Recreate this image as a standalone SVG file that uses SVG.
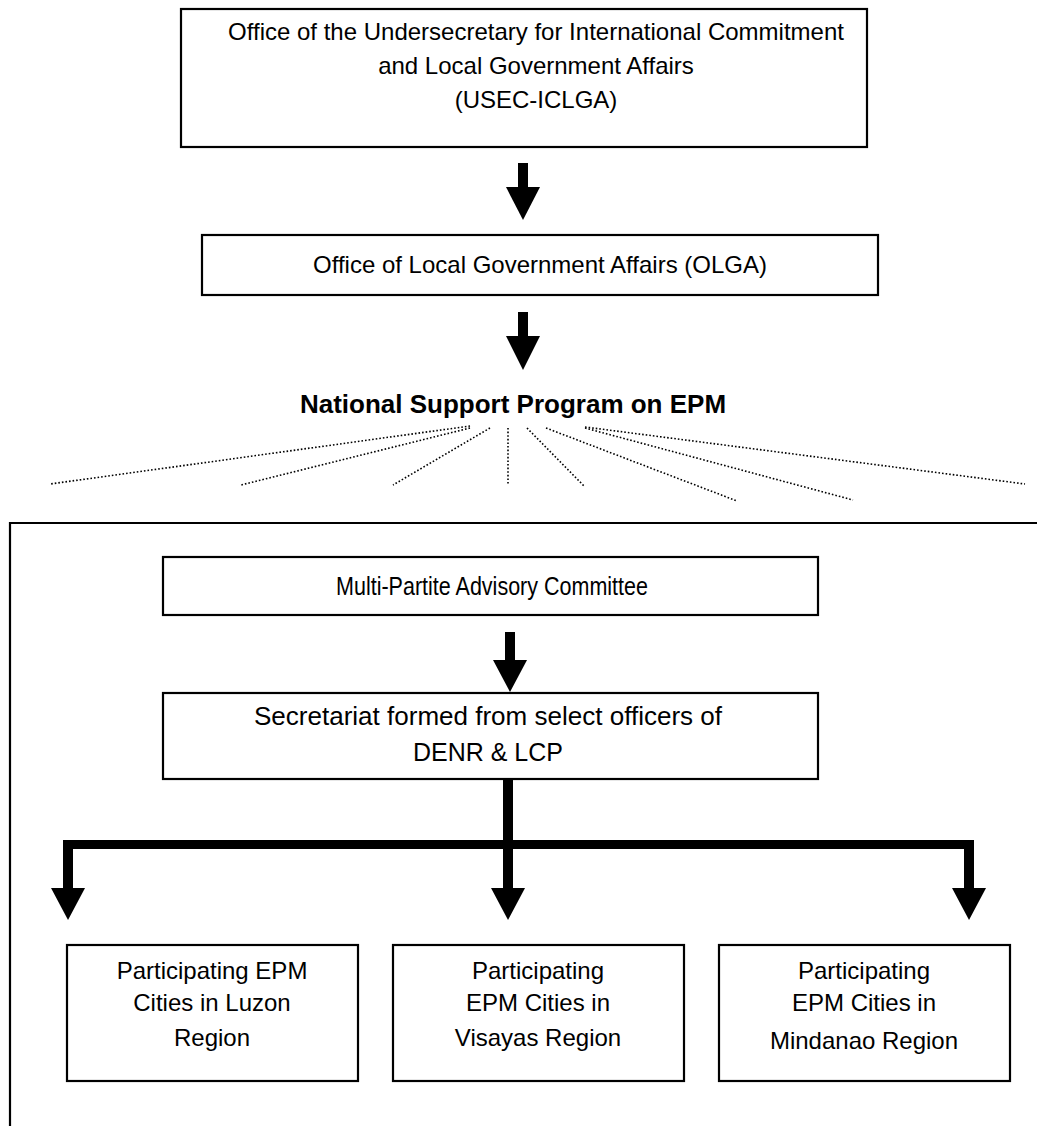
<svg xmlns="http://www.w3.org/2000/svg" width="1037" height="1129" viewBox="0 0 1037 1129">
<style>
.box{fill:#fff;stroke:#000;stroke-width:2.2}
.t{font-family:"Liberation Sans",Arial,sans-serif;font-size:24px;fill:#000;text-anchor:middle}
.n{font-family:"Liberation Sans Narrow","Arial Narrow","Liberation Sans",sans-serif;font-size:26px;fill:#000;text-anchor:middle}
.b{font-family:"Liberation Sans",Arial,sans-serif;font-size:26px;font-weight:bold;fill:#000;text-anchor:middle}
.dot{fill:none;stroke:#000;stroke-width:1.6;stroke-dasharray:1.6 2}
.ar{fill:#000}
.frame{fill:none;stroke:#000;stroke-width:2.2}
</style>
<rect width="1037" height="1129" fill="#fff"/>
<g id="usec">
<rect class="box" x="181" y="9" width="686" height="138"/>
<text class="t" x="536" y="40">Office of the Undersecretary for International Commitment</text>
<text class="t" x="536" y="74">and Local Government Affairs</text>
<text class="t" x="536" y="108">(USEC-ICLGA)</text>
</g>
<g id="olga">
<rect class="box" x="202" y="235" width="676" height="60"/>
<text class="t" x="540" y="273">Office of Local Government Affairs (OLGA)</text>
</g>
<g id="nsp">
<text class="b" x="513" y="413">National Support Program on EPM</text>
</g>
<path class="frame" d="M10,1126 V523 H1037"/>
<g id="mpac">
<rect class="box" x="163" y="557" width="655" height="58"/>
<text class="n" x="492" y="595" textLength="312" lengthAdjust="spacingAndGlyphs">Multi-Partite Advisory Committee</text>
</g>
<g id="secretariat">
<rect class="box" x="163" y="693" width="655" height="86"/>
<text class="n" x="488" y="725" textLength="468" lengthAdjust="spacingAndGlyphs">Secretariat formed from select officers of</text>
<text class="n" x="488" y="761" textLength="150" lengthAdjust="spacingAndGlyphs">DENR &amp; LCP</text>
</g>
<g id="luzon">
<rect class="box" x="67" y="945" width="291" height="136"/>
<text class="t" x="212" y="979">Participating EPM</text>
<text class="t" x="212" y="1011">Cities in Luzon</text>
<text class="t" x="212" y="1046">Region</text>
</g>
<g id="visayas">
<rect class="box" x="393" y="945" width="291" height="136"/>
<text class="t" x="538" y="979">Participating</text>
<text class="t" x="538" y="1011">EPM Cities in</text>
<text class="t" x="538" y="1046">Visayas Region</text>
</g>
<g id="mindanao">
<rect class="box" x="719" y="945" width="291" height="136"/>
<text class="t" x="864" y="979">Participating</text>
<text class="t" x="864" y="1011">EPM Cities in</text>
<text class="t" x="864" y="1049">Mindanao Region</text>
</g>
<g id="connectors">
<rect class="ar" x="518" y="163" width="10" height="26"/>
<polygon class="ar" points="506,187 540,187 523,220"/>
<rect class="ar" x="518" y="312" width="10" height="26"/>
<polygon class="ar" points="506,336 540,336 523,370"/>
<line class="dot" x1="470" y1="426" x2="50" y2="484"/>
<line class="dot" x1="470" y1="428" x2="241" y2="485"/>
<line class="dot" x1="490" y1="428" x2="393" y2="485"/>
<line class="dot" x1="508" y1="428" x2="508" y2="484"/>
<line class="dot" x1="527" y1="428" x2="584" y2="486"/>
<line class="dot" x1="546" y1="428" x2="737" y2="501"/>
<line class="dot" x1="585" y1="428" x2="853" y2="500"/>
<line class="dot" x1="585" y1="427" x2="1025" y2="484"/>
<rect class="ar" x="505" y="632" width="10" height="30"/>
<polygon class="ar" points="493,660 527,660 510,692"/>
<rect class="ar" x="503" y="779" width="10" height="111"/>
<rect class="ar" x="63" y="840" width="911" height="9"/>
<rect class="ar" x="63" y="840" width="10" height="50"/>
<rect class="ar" x="964" y="840" width="10" height="50"/>
<polygon class="ar" points="51,888 85,888 68,920"/>
<polygon class="ar" points="491,888 525,888 508,920"/>
<polygon class="ar" points="952,888 986,888 969,920"/>
</g>
</svg>
